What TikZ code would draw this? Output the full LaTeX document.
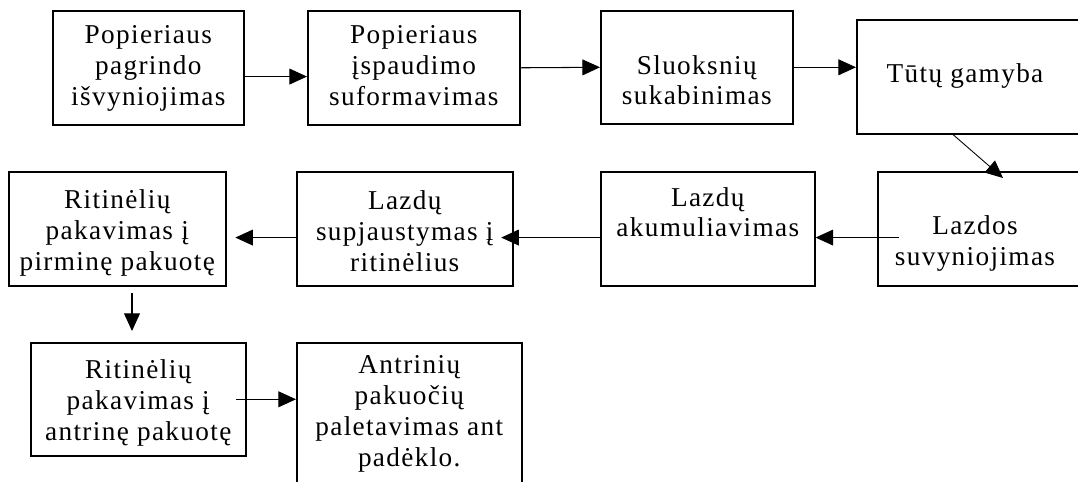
\documentclass[tikz,border=0pt]{standalone}
\usepackage{fontspec}
\setmainfont{Liberation Serif}[LetterSpace=5]
\usetikzlibrary{arrows.meta}
\usetikzlibrary{calc}
\tikzset{box/.style = {draw, line width=0.9pt, anchor=north west,
                       minimum height=2.28cm},
         txt/.style = {anchor=north, align=center, inner sep=0pt,
                       font=\fontsize{15.5}{17.6}\selectfont},
         arr/.style = {line width=0.6pt, -{Triangle[length=10pt,width=9pt]}}}

\begin{document}
\begin{tikzpicture}[x=0.02cm, y=-0.02cm]
      \useasboundingbox (0,0) rectangle (1078,481);
      \clip (0,0) rectangle (1078,481);

      % upper row
      \node [box, minimum width=3.82cm] (b1) at (52,10) {};
      \node [box, minimum width=4.24cm] (b2) at (307,10) {};
      \node [box, minimum width=3.84cm, minimum height=2.26cm] (b3) at (600,10) {};
      \node [box, minimum width=4.8cm] (b4) at (856,19) {};

      % middle row
      \node [box, minimum width=4.6cm] (b5) at (877,171) {};
      \node [box, minimum width=4.28cm] (b6) at (600,171) {};
      \node [box, minimum width=4.32cm] (b7) at (296,171) {};
      \node [box, minimum width=4.34cm] (b8) at (8,171) {};

      % lower row
      \node [box, minimum width=4.3cm, minimum height=2.26cm] (b9) at (30,342) {};
      \node [box, minimum width=4.5cm, minimum height=3.36cm] (b10) at (296,342) {};

      \node [txt] (t1) at ([yshift=-8.5pt]b1.north) {Popieriaus\\pagrindo\\išvyniojimas};
      \node [txt] (t2) at ([yshift=-8.5pt]b2.north) {Popieriaus\\įspaudimo\\suformavimas};
      \node [txt] (t3) at ([yshift=-25.5pt]b3.north) {Sluoksnių\\sukabinimas};
      \node [txt] (t4) at ([xshift=2.18cm, yshift=-25pt]b4.north west) {Tūtų gamyba};
      \node [txt] (t5) at ([xshift=1.96cm, yshift=-25pt]b5.north west) {Lazdos\\suvyniojimas};
      \node [txt] (t6) at ([yshift=-9pt]b6.north) {Lazdų\\akumuliavimas};
      \node [txt] (t7) at ([yshift=-11pt]b7.north) {Lazdų\\supjaustymas į\\ritinėlius};
      \node [txt] (t8) at ([yshift=-10.5pt]b8.north) {Ritinėlių\\pakavimas į\\pirminę pakuotę};
      \node [txt] (t9) at ([yshift=-10pt]b9.north) {Ritinėlių\\pakavimas į\\antrinę pakuotę};
      \node [txt] (t10) at ([yshift=-7.5pt]b10.north) {Antrinių\\pakuočių\\paletavimas ant\\padėklo.};

      \coordinate (d1) at (132,293);
      \coordinate (d2) at (132,331);

      \draw [arr] ([yshift=-5pt]b1.east) -- ([yshift=-5pt]b2.west);
      \draw [arr] (b2.east) -- (b3.west);
      \draw [arr] (b3.east) -- (b3.east -| b4.west);
      \draw [arr, line width=0.5pt] ($(b4.south west)+(97,0)$) -- ($(b5.north west)+(126,7)$);
      \draw [arr] ([xshift=12.5pt, yshift=-5pt]b5.west) -- ([yshift=-5pt]b6.east);
      \draw [arr] ([yshift=-5pt]b6.west) -- ([xshift=-7pt, yshift=-5pt]b7.east);
      \draw [arr] ([yshift=-5pt]b7.west) -- ([xshift=5pt, yshift=-5pt]b8.east);
      \draw [arr] (d1) -- (d2);
      \draw [arr] ([xshift=-6pt]b9.east) -- (b9.east -| b10.west);
    \end{tikzpicture}
\end{document}
